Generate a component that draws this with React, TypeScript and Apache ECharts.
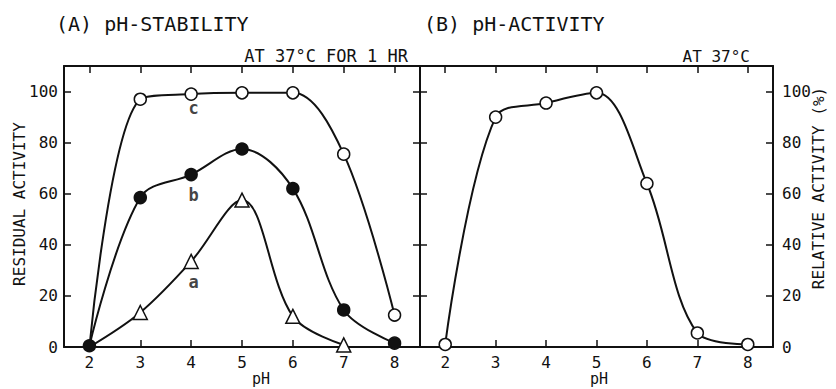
import React, { useEffect, useRef } from "react";
import * as echarts from "echarts";

const pH = [2, 3, 4, 5, 6, 7, 8];
const curveC = [0, 97, 99, 99.5, 99.5, 75.5, 12.5];
const curveB = [0.5, 58.5, 67.5, 77.5, 62, 14.5, 1.5];
const curveA = [0, 13.5, 33.5, 57.5, 12, 0.8];
const activity = [1, 90, 95.5, 99.5, 64, 5.5, 1];
const xTicks = [2, 3, 4, 5, 6, 7, 8];
const yTicks = [0, 20, 40, 60, 80, 100];
const curveNames = ["a", "b", "c"];
const curveNameAnchors = [
  [4.05, 25.5],
  [4.05, 59.5],
  [4.05, 93.5],
];

const FONT = "DejaVu Sans Mono";
const INK = "#111";

export default function App() {
  const ref = useRef<HTMLDivElement>(null);
  useEffect(() => {
    if (!ref.current) return;
    const chart = echarts.init(ref.current, undefined, { renderer: "svg" });

    const xBase = (grid: number, pos: "bottom" | "top", labels: boolean) => ({
      type: "value",
      gridIndex: grid,
      position: pos,
      min: 1.5,
      max: 8.5,
      axisLine: { show: true, onZero: false, lineStyle: { color: INK, width: 2 } },
      axisTick: {
        show: true,
        inside: true,
        length: 7,
        customValues: xTicks,
        lineStyle: { color: INK, width: 1.5 },
      },
      axisLabel: {
        show: labels,
        customValues: xTicks,
        margin: 7,
        color: INK,
        fontFamily: FONT,
        fontSize: 16,
      },
      splitLine: { show: false },
    });

    const yBase = (grid: number, pos: "left" | "right", labels: boolean) => ({
      type: "value",
      gridIndex: grid,
      position: pos,
      min: 0,
      max: 110,
      interval: 20,
      axisLine: { show: true, onZero: false, lineStyle: { color: INK, width: 2 } },
      axisTick: {
        show: true,
        inside: true,
        length: 7,
        customValues: yTicks,
        lineStyle: { color: INK, width: 1.5 },
      },
      axisLabel: {
        show: labels,
        customValues: yTicks,
        margin: pos === "left" ? 6 : 9,
        color: INK,
        fontFamily: FONT,
        fontSize: 16,
      },
      splitLine: { show: false },
    });

    const lineSeries = (
      grid: number,
      xs: number[],
      ys: number[],
      symbol: string,
      fill: string,
      size: number,
      hideFirst: boolean
    ) => ({
      type: "line",
      xAxisIndex: grid * 2,
      yAxisIndex: grid * 2,
      smooth: 0.35,
      symbol,
      symbolSize: size,
      showAllSymbol: true,
      lineStyle: { color: INK, width: 2 },
      itemStyle: { color: fill, borderColor: INK, borderWidth: 1.5, opacity: 1 },
      data: ys.map((y, i) =>
        hideFirst && i === 0
          ? { value: [xs[i], y], symbol: "none" }
          : { value: [xs[i], y] }
      ),
      z: fill === INK ? 5 : 3,
    });

    chart.setOption({
      animation: false,
      backgroundColor: "#fff",
      grid: [
        { left: 64, top: 66, width: 356, height: 281, show: false },
        { left: 420, top: 66, width: 353, height: 281, show: false },
      ],
      xAxis: [
        xBase(0, "bottom", true),
        xBase(0, "top", false),
        xBase(1, "bottom", true),
        xBase(1, "top", false),
      ],
      yAxis: [
        yBase(0, "left", true),
        yBase(0, "right", false),
        yBase(1, "left", false),
        yBase(1, "right", true),
      ],
      series: [
        lineSeries(0, pH, curveC, "circle", "#fff", 12, true),
        lineSeries(0, pH.slice(0, curveA.length), curveA, "triangle", "#fff", 14, true),
        lineSeries(0, pH, curveB, "circle", INK, 12, false),
        lineSeries(1, pH, activity, "circle", "#fff", 12, false),
        {
          type: "scatter",
          xAxisIndex: 0,
          yAxisIndex: 0,
          symbolSize: 0,
          silent: true,
          itemStyle: { color: INK },
          data: curveNames.map((n, i) => ({ name: n, value: curveNameAnchors[i] })),
          label: {
            show: true,
            position: "inside",
            formatter: (p: any) => p.name,
            color: INK,
            textBorderWidth: 0,
            textBorderColor: "transparent",
            fontFamily: FONT,
            fontSize: 17,
            fontWeight: "bold",
          },
          z: 6,
        },
      ],
      graphic: [
        {
          type: "text",
          left: 56,
          top: 14,
          style: { text: "(A) pH-STABILITY", font: `20px '${FONT}'`, fill: INK },
        },
        {
          type: "text",
          left: 424,
          top: 14,
          style: { text: "(B) pH-ACTIVITY", font: `20px '${FONT}'`, fill: INK },
        },
        {
          type: "text",
          x: 408,
          y: 56,
          style: {
            text: "AT 37°C FOR 1 HR",
            font: `17px '${FONT}'`,
            fill: INK,
            textAlign: "right",
            textVerticalAlign: "middle",
          },
        },
        {
          type: "text",
          x: 750,
          y: 56,
          style: {
            text: "AT 37°C",
            font: `16px '${FONT}'`,
            fill: INK,
            textAlign: "right",
            textVerticalAlign: "middle",
          },
        },
        {
          type: "text",
          x: 261,
          y: 379,
          style: {
            text: "pH",
            font: `15px '${FONT}'`,
            fill: INK,
            textAlign: "center",
            textVerticalAlign: "middle",
          },
        },
        {
          type: "text",
          x: 599,
          y: 379,
          style: {
            text: "pH",
            font: `15px '${FONT}'`,
            fill: INK,
            textAlign: "center",
            textVerticalAlign: "middle",
          },
        },
        {
          type: "text",
          x: 19,
          y: 204,
          rotation: Math.PI / 2,
          style: {
            text: "RESIDUAL ACTIVITY",
            font: `16px '${FONT}'`,
            fill: INK,
            textAlign: "center",
            textVerticalAlign: "middle",
          },
        },
        {
          type: "text",
          x: 818,
          y: 188,
          rotation: Math.PI / 2,
          style: {
            text: "RELATIVE ACTIVITY (%)",
            font: `16px '${FONT}'`,
            fill: INK,
            textAlign: "center",
            textVerticalAlign: "middle",
          },
        },
      ],
    });
    return () => chart.dispose();
  }, []);

  return <div ref={ref} style={{ width: 836, height: 389, position: "fixed", left: 0, top: 0 }} />;
}
